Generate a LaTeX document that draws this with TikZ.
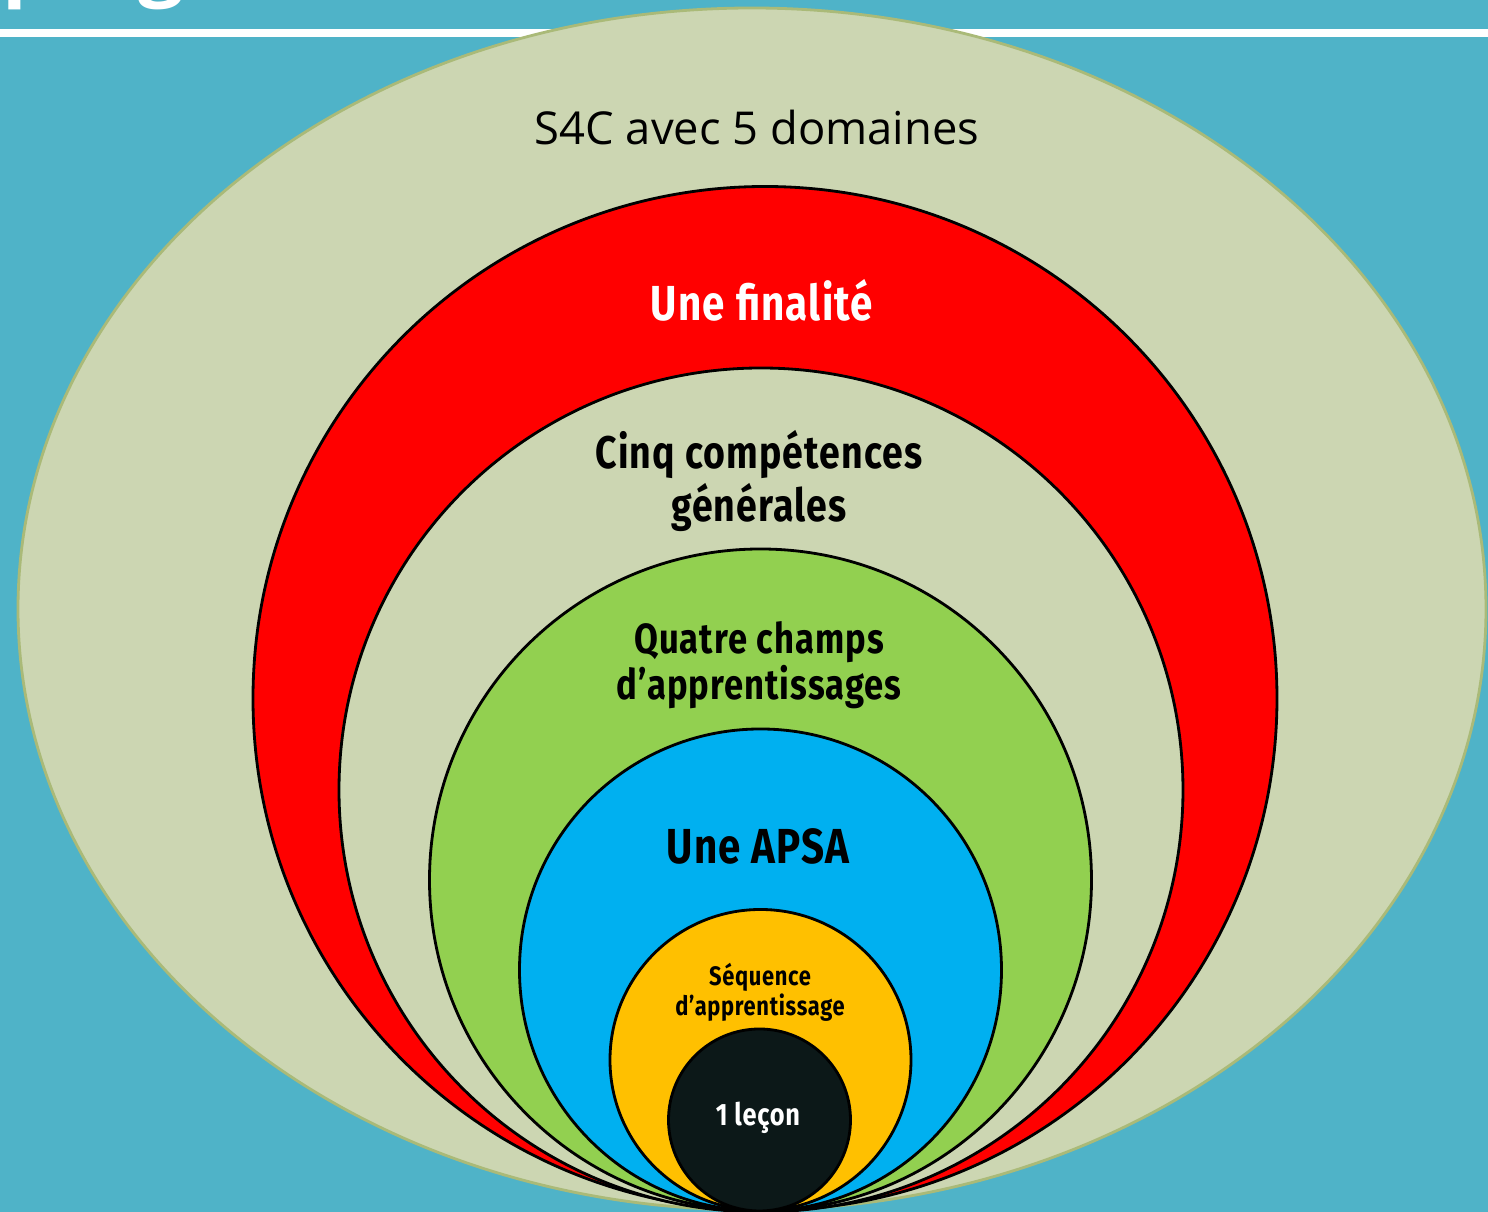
\documentclass[tikz,border=0pt]{standalone}
\usepackage{fontspec}
\setmainfont{Open Sans}
\newfontfamily\condfont[FakeStretch=0.82,LetterSpace=2.5]{Fira Sans}
\usetikzlibrary{positioning}

\definecolor{bgteal}{RGB}{79,179,200}
\definecolor{sage}{RGB}{204,214,178}
\definecolor{sageline}{RGB}{170,186,120}
\definecolor{ringred}{RGB}{255,0,0}
\definecolor{ringgreen}{RGB}{146,208,80}
\definecolor{ringblue}{RGB}{0,176,240}
\definecolor{ringorange}{RGB}{255,192,0}
\definecolor{ringdark}{RGB}{12,24,24}

\tikzset{
  ring/.style={draw=black, line width=0.8pt},
  lbl/.style={align=center, text=black, inner sep=0pt},
  big/.style={lbl, font=\condfont\bfseries\fontsize{14}{15}\selectfont},
}

\begin{document}
\begin{tikzpicture}
\clip (0,0) rectangle (14.88,12.12);
\fill[bgteal] (0,0) rectangle (14.88,12.12);
% title cut off by the top edge
\node[anchor=base west, text=white, inner sep=0pt, font=\bfseries\fontsize{23}{23}\selectfont] (title) at (0.02,12.21) {programmes};
\fill[white] (0,11.75) rectangle (14.88,11.83);

% outer domain
\draw[line width=0.8pt, color=sageline, fill=sage] (7.52,6.03) ellipse [x radius=7.34, y radius=6.01];

% nested rings, all touching at the bottom
\draw[ring, fill=ringred] (7.65,5.135) circle (5.12);
\draw[ring, fill=sage] (7.61,4.22) circle (4.22);
\draw[ring, fill=ringgreen] (7.605,3.32) circle (3.31);
\draw[ring, fill=ringblue] (7.605,2.42) circle (2.41);
\draw[ring, fill=ringorange] (7.605,1.52) circle (1.505);
\draw[ring, fill=ringdark] (7.595,0.92) circle (0.91);

% labels
\node[inner sep=0pt, font=\fontsize{12.9}{14}\selectfont] (domaines) at (7.57,10.84) {S4C avec 5 domaines};
\node[big, text=white] (finalite) at (7.62,9.12) {Une finalité};
\node[big, font=\condfont\bfseries\fontsize{13}{14.8}\selectfont] (competences) at (7.59,7.31) {Cinq compétences\\générales};
\node[big, font=\condfont\bfseries\fontsize{12}{13}\selectfont] (champs) at (7.59,5.47) {Quatre champs\\d’apprentissages};
\node[big] (apsa) at (7.58,3.66) {Une APSA};
\node[big, font=\condfont\bfseries\fontsize{7.6}{8.6}\selectfont] (sequence) at (7.60,2.20) {Séquence\\d’apprentissage};
\node[big, text=white, font=\condfont\bfseries\fontsize{8.8}{9}\selectfont] (lecon) at (7.58,0.94) {1 leçon};
\end{tikzpicture}
\end{document}
